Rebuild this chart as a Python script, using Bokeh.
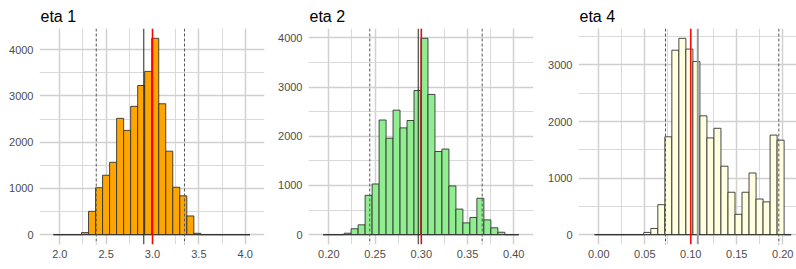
import numpy as np
from bokeh.plotting import figure
from bokeh.layouts import row
from bokeh.models import Range1d, FixedTicker, PrintfTickFormatter, Span
from bokeh.embed import file_html
from bokeh.resources import INLINE

# ---------------- data ----------------
titles = ["eta 1", "eta 2", "eta 4"]

counts_eta1 = [0, 0, 0, 0, 45, 505, 1015, 1285, 1565, 2515, 2255, 2775, 3225,
               3530, 4245, 2830, 1805, 1025, 840, 405, 30, 0, 0, 0, 0, 0, 0, 0]
counts_eta2 = [0, 0, 0, 30, 120, 200, 800, 1030, 2330, 1960, 2530, 2170, 2320,
               2930, 3990, 2850, 1690, 1740, 990, 520, 240, 350, 740, 300, 140,
               50, 0, 0]
counts_eta4 = [0, 0, 0, 0, 0, 0, 0, 40, 110, 530, 1730, 3260, 3470, 3280, 3060,
               2100, 1710, 1880, 1210, 750, 360, 750, 1090, 630, 580, 1760, 1670,
               0]

bin_start = [1.9313, 0.19394, -0.00449]
bin_width = [0.07573, 0.007552, 0.007627]

lower_q = [2.393, 0.2443, 0.0725]
upper_q = [3.345, 0.3658, 0.1957]
estimate = [2.906, 0.2967, 0.1076]
true_value = [3.0, 0.30, 0.10]

x_ticks = [[2.0, 2.5, 3.0, 3.5, 4.0],
           [0.20, 0.25, 0.30, 0.35, 0.40],
           [0.00, 0.05, 0.10, 0.15, 0.20]]
x_minor = [[2.25, 2.75, 3.25, 3.75],
           [0.225, 0.275, 0.325, 0.375],
           [0.025, 0.075, 0.125, 0.175]]
y_ticks = [[0, 1000, 2000, 3000, 4000],
           [0, 1000, 2000, 3000, 4000],
           [0, 1000, 2000, 3000]]
y_minor = [[500, 1500, 2500, 3500],
           [500, 1500, 2500, 3500],
           [500, 1500, 2500, 3500]]
x_fmt = ["%.1f", "%.2f", "%.2f"]

# ---------------- styling / layout ----------------
fills = ["#FFA500", "#90EE90", "#FFFFE0"]
est_color = ["#222222", "#222222", "#9a9a9a"]
est_width = [1.0, 1.0, 2.0]
x_limits = [(1.781, 4.208), (0.17805, 0.4213), (-0.02207, 0.2149)]
frame_w = [225, 225, 218]
borders_left = [39, 39, 40]
borders_right = [5, 5, 0]
FONT = "Liberation Sans"

all_counts = [counts_eta1, counts_eta2, counts_eta4]
figs = []
for i in range(3):
    counts = np.array(all_counts[i], dtype=float)
    edges = bin_start[i] + bin_width[i] * np.arange(len(counts) + 1)
    m = counts.max()
    p = figure(frame_width=frame_w[i], frame_height=216, output_backend="svg",
               toolbar_location=None, title=titles[i],
               x_range=Range1d(*x_limits[i]),
               y_range=Range1d(-0.05 * m, 1.05 * m),
               min_border_left=borders_left[i],
               min_border_right=borders_right[i],
               min_border_top=28, min_border_bottom=25)
    p.outline_line_color = None
    p.background_fill_color = "white"
    p.border_fill_color = "white"

    p.title.text_font = FONT
    p.title.text_font_size = "16px"
    p.title.text_font_style = "normal"
    p.title.text_color = "black"
    p.title.standoff = 7
    p.title.offset = 1

    p.xaxis.ticker = FixedTicker(ticks=x_ticks[i], minor_ticks=x_minor[i])
    p.yaxis.ticker = FixedTicker(ticks=y_ticks[i], minor_ticks=y_minor[i])
    p.xaxis.formatter = PrintfTickFormatter(format=x_fmt[i])
    p.yaxis.formatter = PrintfTickFormatter(format="%d")
    for ax in (p.xaxis, p.yaxis):
        ax.axis_line_color = None
        ax.major_tick_line_color = None
        ax.minor_tick_line_color = None
        ax.major_tick_in = 0
        ax.major_tick_out = 0
        ax.minor_tick_in = 0
        ax.minor_tick_out = 0
        ax.major_label_text_font = FONT
        ax.major_label_text_font_size = "11px"
        ax.major_label_text_color = "#4d4d4d"
    p.xaxis.major_label_standoff = 5
    p.yaxis.major_label_standoff = 6

    for g in (p.xgrid, p.ygrid):
        g.grid_line_color = "#d0d0d0"
        g.grid_line_width = 1.5
        g.minor_grid_line_color = "#d9d9d9"
        g.minor_grid_line_width = 1.0

    p.quad(left=edges[:-1], right=edges[1:], top=counts, bottom=0,
           fill_color=fills[i], line_color="#333333", line_width=0.9)
    p.segment(x0=[edges[0]], y0=[0], x1=[edges[-1]], y1=[0],
              line_color="#333333", line_width=0.9)

    for v in (lower_q[i], upper_q[i]):
        p.add_layout(Span(location=v, dimension="height", line_color="#555555",
                          line_width=1.0, line_dash="3 2"))
    p.add_layout(Span(location=estimate[i], dimension="height",
                      line_color=est_color[i], line_width=est_width[i]))
    p.add_layout(Span(location=true_value[i], dimension="height",
                      line_color="#ff0000", line_width=1.5))
    figs.append(p)

layout = row(*figs)
open("out.html", "w").write(file_html(layout, INLINE))
